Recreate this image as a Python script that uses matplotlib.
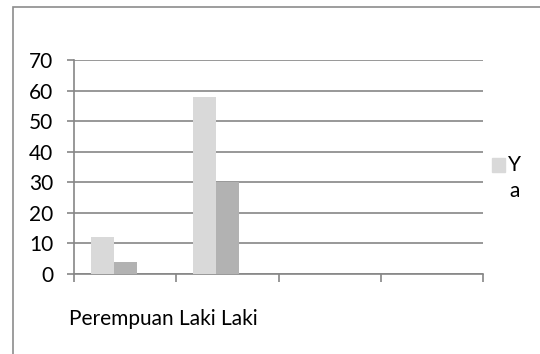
import numpy as np
import matplotlib.pyplot as plt
from matplotlib.patches import Rectangle

# data
slots = [0, 1, 2, 3]
series_ya = [12, 58, 0, 0]
series_2 = [4, 30, 0, 0]
series_3 = [0, 0, 0, 0]
yticks = [0, 10, 20, 30, 40, 50, 60, 70]
cat_text = "Perempuan Laki Laki"
legend_text = ["Y", "a"]

plt.rcParams["font.family"] = ["Lato", "DejaVu Sans"]

W, H = 540, 354
fs = 15
fig = plt.figure(figsize=(W / 100, H / 100), dpi=100)
ax = fig.add_axes([74 / W, 1 - 274 / H, (483 - 74) / W, (274 - 60) / H])

grid_c = "#868686"
x = np.array(slots) + 0.5
bw = 0.225
ax.bar(x - bw, series_ya, width=bw, color="#d9d9d9", zorder=3)
ax.bar(x, series_2, width=bw, color="#b2b2b2", zorder=3)
ax.bar(x + bw, series_3, width=bw, color="#8c8c8c", zorder=3)

ax.set_xlim(0, 4)
ax.set_ylim(0, 70)
ax.set_yticks(yticks)
ax.set_xticks([0, 1, 2, 3, 4])
ax.set_xticklabels([])
ax.yaxis.grid(True, color=grid_c, lw=1.2, zorder=0)
ax.set_axisbelow(True)

for s in ["top", "right"]:
    ax.spines[s].set_visible(False)
for s in ["left", "bottom"]:
    ax.spines[s].set_color(grid_c)
    ax.spines[s].set_linewidth(1.2)
ax.tick_params(axis="y", length=5, width=1.2, color=grid_c, pad=10, labelsize=fs)
ax.tick_params(axis="x", length=6, width=1.2, color=grid_c)

ax.text(-0.012, -0.21, cat_text, transform=ax.transAxes, fontsize=fs,
        ha="left", va="center")

# legend (cut off at the right edge like the reference)
fig.patches.append(Rectangle((492 / W, 1 - 172 / H), 13 / W, 14 / H,
                             transform=fig.transFigure, color="#d9d9d9"))
fig.text(508 / W, 1 - 165 / H, legend_text[0], fontsize=fs, va="center")
fig.text(509 / W, 1 - 191 / H, legend_text[1], fontsize=fs, va="center")

# chart area border
fig.patches.append(Rectangle((13 / W, -0.1), 1.2, 1 - 7 / H + 0.1,
                             transform=fig.transFigure, fill=False,
                             edgecolor="#8c8c8c", lw=1.2))

fig.savefig("out.png", dpi=100)
